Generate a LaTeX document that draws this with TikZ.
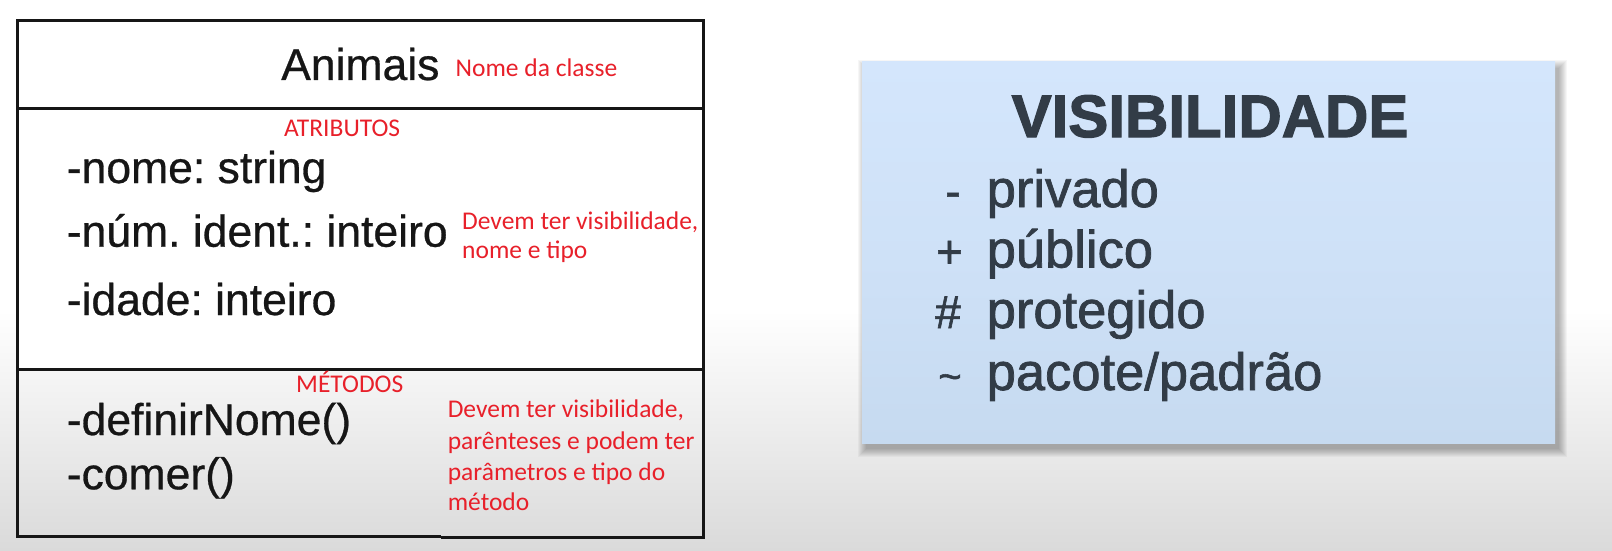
\documentclass[tikz,border=0pt]{standalone}
\usepackage{fontspec}
\setmainfont{Liberation Sans}
\newfontfamily\notefont{Carlito}
\newfontfamily\umlfont[FakeBold=0.6]{Liberation Sans}
\newfontfamily\visfont[FakeBold=1.4]{Liberation Sans}
\newfontfamily\vistitlefont[FakeBold=2]{Liberation Sans Bold}
\definecolor{bggray}{HTML}{DADADA}
\definecolor{inkblack}{HTML}{161616}
\definecolor{notered}{HTML}{E8202A}
\definecolor{paneltop}{HTML}{D4E6FC}
\definecolor{panelbot}{HTML}{C6DAF0}
\definecolor{slate}{HTML}{323C47}
\tikzset{
  umlline/.style={draw=inkblack, line width=3pt},
  umltext/.style={anchor=base west, inner sep=0pt, text=inkblack, font=\umlfont\fontsize{44.5}{50}\selectfont},
  note/.style={anchor=base west, inner sep=0pt, text=notered, font=\notefont\fontsize{25.5}{30}\selectfont},
  vistitle/.style={anchor=base, inner sep=0pt, text=slate, font=\vistitlefont\fontsize{60}{66}\selectfont},
  visitem/.style={anchor=base west, inner sep=0pt, text=slate, font=\visfont\fontsize{52.5}{60}\selectfont},
  vissym/.style={anchor=base, inner sep=0pt, text=slate, font=\visfont\fontsize{46}{52}\selectfont},
}
\frenchspacing
\begin{document}
\begin{tikzpicture}[x=1pt, y=-1pt]
\useasboundingbox (0,0) rectangle (1612,551);

% page background: white, fading to light grey towards the bottom
\fill[white] (0,0) rectangle (1612,310);
\shade[top color=white, bottom color=bggray] (0,310) rectangle (1612,551);

% ---------- UML class box ----------
\fill[white] (17.5,20.5) rectangle (703,369);
\draw[umlline] (441,536) -- (17.5,536) -- (17.5,20.5) -- (703,20.5) -- (703,537.5) -- (441,537.5);
\draw[umlline] (17.5,108) -- (703,108);
\draw[umlline] (17.5,369) -- (703,369);

\node[umltext] (cls) at (281,80) {Animais};
\node[note] (clsnote) at (455.5,76.7) {Nome da classe};

\node[note] (attrhead) at (284,136.7) {ATRIBUTOS};
\node[umltext] (attr1) at (66.6,183) {-nome: string};
\node[umltext] (attr2) at (66.6,246.7) {-núm. ident.: inteiro};
\node[umltext] (attr3) at (66.6,315) {-idade: inteiro};
\node[note] (attrnote1) at (462,229) {Devem ter visibilidade,};
\node[note] (attrnote2) at (462,258.5) {nome e tipo};

\node[note] (methhead) at (296,392.7) {MÉTODOS};
\node[umltext] (meth1) at (66.6,435) {-definirNome()};
\node[umltext] (meth2) at (66.6,489.3) {-comer()};
\node[note] (methnote1) at (447.6,417.7) {Devem ter visibilidade,};
\node[note] (methnote2) at (447.6,449.3) {parênteses e podem ter};
\node[note] (methnote3) at (447.6,480) {parâmetros e tipo do};
\node[note] (methnote4) at (447.6,510) {método};

% ---------- visibility panel ----------
% soft shadow built from stacked translucent rectangles
\foreach \k in {1,...,9}{
  \fill[black, opacity=0.035]
    (862+4-9+\k, 62+6-9+\k) rectangle (1555+4+9-\k, 443+6+9-\k);
}
\shade[top color=paneltop, bottom color=panelbot, middle color=paneltop!60!panelbot]
  (862,62) rectangle (1555,443);

\node[vistitle] (vis) at (1210,137) {VISIBILIDADE};

\node[vissym] (sym1) at (953,207) {-};
\node[visitem] (item1) at (986.5,207) {privado};
\node[vissym] (sym2) at (949.5,267.5) {+};
\node[visitem] (item2) at (986.5,267.5) {público};
\node[vissym] (sym3) at (948,328) {\#};
\node[visitem] (item3) at (986.5,328) {protegido};
\node[vissym, font=\visfont\fontsize{40}{46}\selectfont] (sym4) at (950,390) {\textasciitilde};
\node[visitem] (item4) at (986.5,390) {pacote/padrão};
\end{tikzpicture}
\end{document}
